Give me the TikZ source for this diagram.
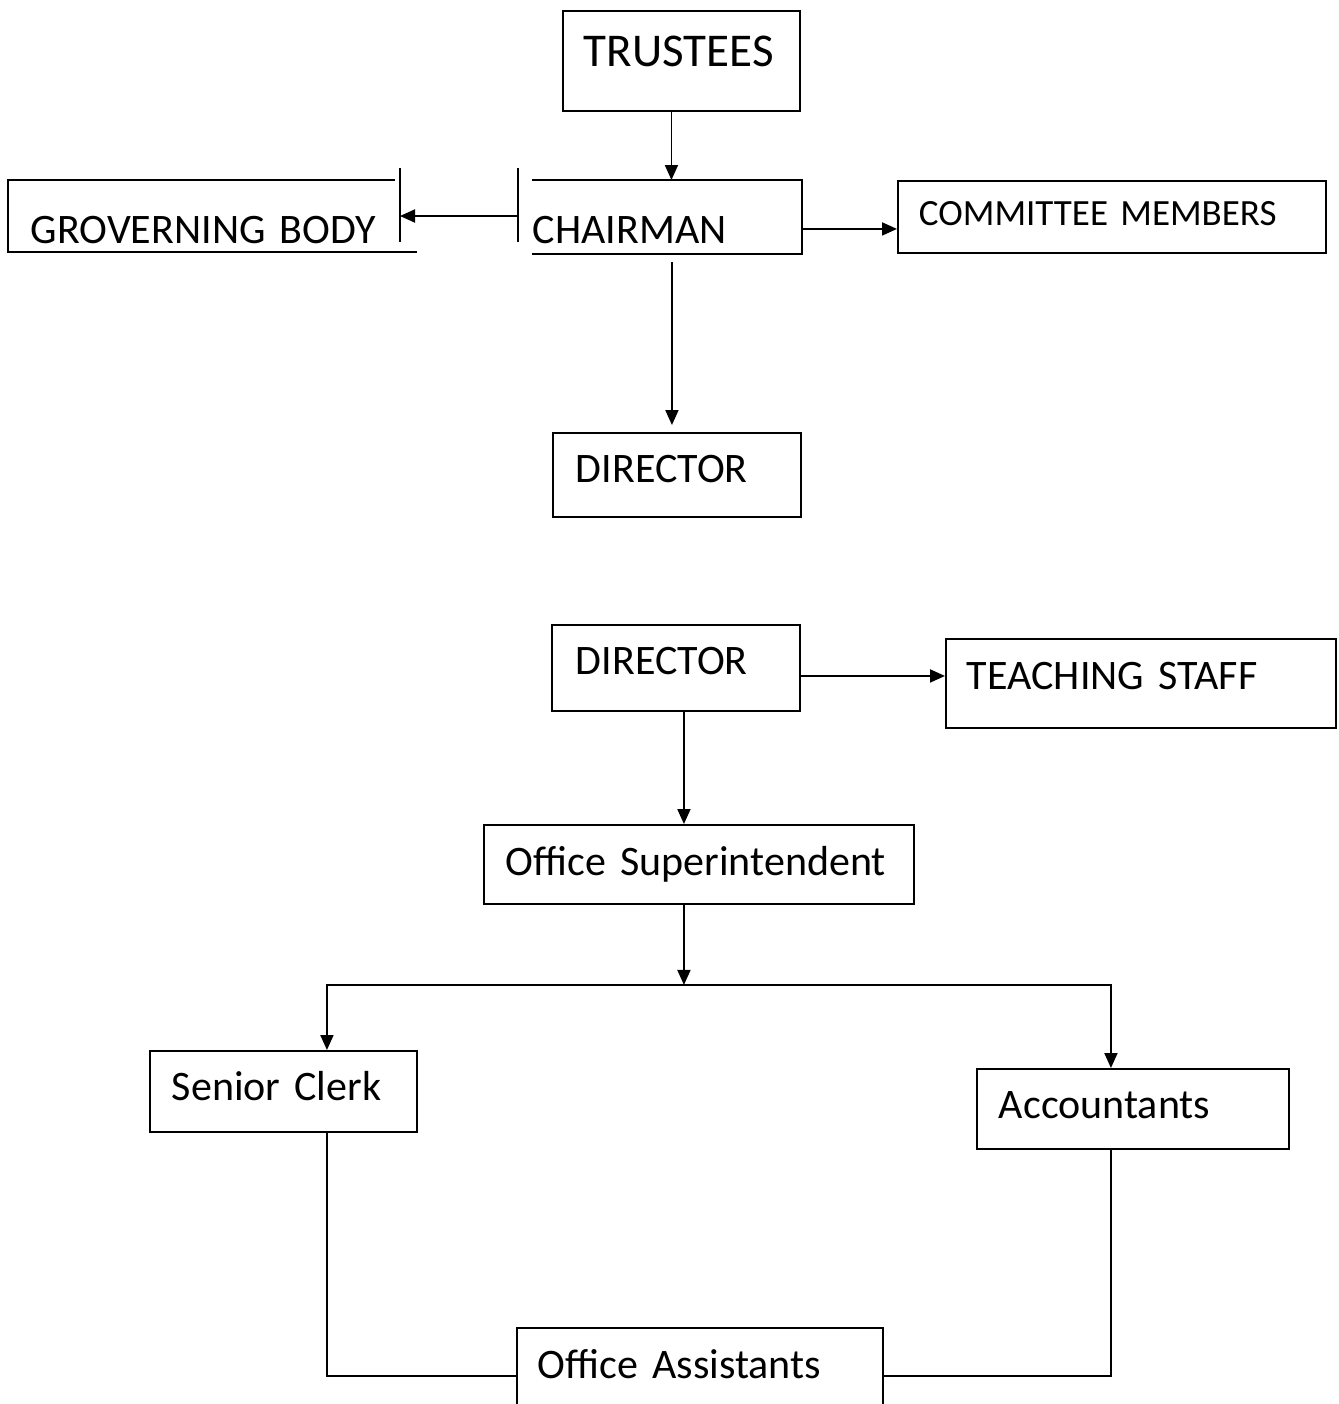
\documentclass[tikz,border=0pt]{standalone}
\usepackage{fontspec}
\setmainfont{Carlito}
\usetikzlibrary{arrows.meta}

\begin{document}
\begin{tikzpicture}[
    x=0.5pt, y=-0.5pt,
    line width=0.95pt,
    box/.style={draw, anchor=north west, inner ysep=0pt, inner xsep=11pt, align=left, font=\fontsize{21}{25}\selectfont},
    open/.style={box, draw=none},
    arrow/.style={-{Triangle[length=7.5pt, width=6.5pt]}}
]
    \useasboundingbox (0,0) rectangle (1339,1404);

    % first chart
    \node [box, inner xsep=10.5pt, text width=97.5pt, text height=28pt, text depth=22pt, font=\fontsize{23.5}{28}\selectfont] (trustees) at (562,10) {TRUSTEES};
    \node [open, text width=174pt, text height=31.5pt, text depth=4.5pt] (gov) at (8,180) {GROVERNING BODY};
    \node [open, inner xsep=0pt, text width=134pt, text height=31.5pt, text depth=4.5pt] (chair) at (532,180) {CHAIRMAN};
    \node [box, inner xsep=10.5pt, text width=193pt, text height=22.5pt, text depth=13.5pt, font=\fontsize{18.5}{22}\selectfont] (comm) at (897,180) {COMMITTEE MEMBERS};
    \node [box, inner xsep=11.5pt, text width=101pt, text height=25pt, text depth=17pt] (dir1) at (552,432) {DIRECTOR};

    % open sides of the two boxes
    \draw (395,180) -- (8,180) -- (8,252) -- (417,252);
    \draw (400,168) -- (400,242);
    \draw (chair.north west) -- (chair.north east) -- (chair.south east) -- (chair.south west);
    \draw (518,168) -- (518,242);
    \coordinate (govbar) at (400,216);
    \coordinate (chairbar) at (518,216);

    \draw [arrow] ([xshift=-5pt]trustees.south) -- ([xshift=-5pt]trustees.south |- chair.north);
    \draw [arrow] (chairbar) -- (govbar);
    \draw [arrow] ([yshift=-6pt]chair.east) -- ([yshift=-6pt]chair.east -| comm.west);
    \draw [arrow] ([xshift=2.5pt, yshift=-4pt]chair.south) -- ([xshift=-2.5pt, yshift=3.5pt]dir1.north);

    % second chart
    \node [box, inner xsep=12pt, text width=100pt, text height=25pt, text depth=18pt] (dir2) at (551,624) {DIRECTOR};
    \node [box, inner xsep=10.5pt, text width=174pt, text height=25.5pt, text depth=19pt] (teach) at (945,638) {TEACHING STAFF};
    \node [box, text width=193pt, text height=25.5pt, text depth=14pt] (super) at (483,824) {Office Superintendent};
    \node [box, text width=111.5pt, text height=25pt, text depth=15.5pt] (senior) at (149,1050) {Senior Clerk};
    \node [box, text width=134pt, text height=25pt, text depth=15pt] (acc) at (976,1068) {Accountants};
    \node [open, inner xsep=10pt, text width=162pt, text height=25pt, text depth=13pt] (assist) at (517,1328) {Office Assistants};
    \draw (assist.south west) -- (assist.north west) -- (assist.north east) -- (assist.south east);

    \coordinate (split) at ([xshift=-7.5pt, yshift=-40pt]super.south);

    \draw [arrow] ([yshift=-4pt]dir2.east) -- ([yshift=-4pt]dir2.east -| teach.west);
    \draw [arrow] ([xshift=4pt]dir2.south) -- ([xshift=4pt]dir2.south |- super.north);
    \draw [arrow] ([xshift=-7.5pt]super.south) -- (split);
    \draw [arrow] (split) -| ([xshift=21.75pt]senior.north);
    \draw [arrow] (split) -| ([xshift=-11pt]acc.north);
    \draw ([xshift=21.75pt]senior.south) |- ([yshift=-4.5pt]assist.west);
    \draw ([xshift=-11pt]acc.south) |- ([yshift=-4.5pt]assist.east);
\end{tikzpicture}
\end{document}
